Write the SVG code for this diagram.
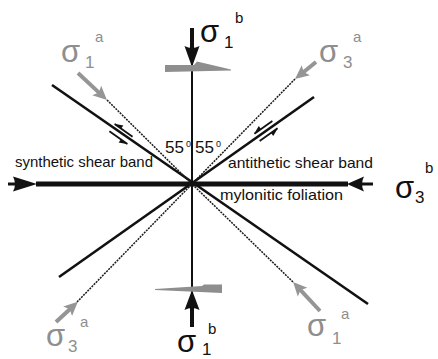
<svg xmlns="http://www.w3.org/2000/svg" width="438" height="359" viewBox="0 0 438 359">
<style>
.t{font-family:"Liberation Sans",Arial,sans-serif;fill:#111}
.g{fill:#8e8e8e}
.k{fill:#111}
.sig{font-size:31px}
.sub{font-size:17px}
.sup{font-size:15px}
.lbl{font-size:14.5px}
.dot{stroke:#1a1a1a;stroke-width:1.5;stroke-dasharray:2 1;fill:none}
.band{stroke:#111;stroke-width:2.6;fill:none}
.garrow{stroke:#959595;stroke-width:4;fill:none}
</style>
<defs>
<marker id="gh" markerUnits="userSpaceOnUse" markerWidth="15" markerHeight="14" refX="6" refY="6.5" orient="auto" viewBox="0 0 15 13">
<path d="M0,0 L14,6.5 L0,13 L3,6.5 Z" fill="#959595"/>
</marker>
<g id="ha">
<line x1="-11" y1="0" x2="11" y2="0" stroke="#111" stroke-width="1.8"/>
<polygon points="11.5,0 3,3.8 3,0" fill="#111"/>
</g>
</defs>
<rect width="438" height="359" fill="#fff"/>
<g id="connectors">
<line class="band" x1="52" y1="85" x2="368" y2="304"/>
<line class="band" x1="314" y1="97" x2="59" y2="277"/>
<line class="dot" x1="107" y1="100" x2="192" y2="184"/>
<line class="dot" x1="295" y1="79" x2="192" y2="184"/>
<line class="dot" x1="77" y1="302" x2="192" y2="184"/>
<line class="dot" x1="293" y1="282" x2="192" y2="184"/>
<line x1="192" y1="46" x2="192" y2="309" stroke="#111" stroke-width="2"/>
<line x1="192" y1="28" x2="192" y2="50" stroke="#111" stroke-width="4"/>
<path d="M192,67 L184.5,46 Q192,50 199.5,46 Z" fill="#111"/>
<line x1="192" y1="305" x2="192" y2="327" stroke="#111" stroke-width="4"/>
<path d="M192,290 L184.5,310 Q192,306 199.5,310 Z" fill="#111"/>
<line x1="36" y1="184" x2="348" y2="184" stroke="#111" stroke-width="5"/>
<line x1="8" y1="184" x2="18" y2="184" stroke="#111" stroke-width="3"/>
<path d="M37,184 L13,176.5 Q17,184 13,191.5 Z" fill="#111"/>
<line x1="360" y1="184" x2="373" y2="184" stroke="#111" stroke-width="3"/>
<path d="M347,184 L364,176.5 Q360,184 364,191.5 Z" fill="#111"/>
<line class="garrow" x1="78" y1="73" x2="101.1" y2="94.6" marker-end="url(#gh)"/>
<line class="garrow" x1="316" y1="62" x2="301.2" y2="74" marker-end="url(#gh)"/>
<line class="garrow" x1="56" y1="322" x2="72" y2="307.2" marker-end="url(#gh)"/>
<line class="garrow" x1="320" y1="311" x2="298.5" y2="287.8" marker-end="url(#gh)"/>
<polygon points="165,65 194,65 197,61.5 231,69.5 231,70.5 165,72" fill="#8e8e8e"/>
<polygon points="222,284.5 204,284.5 202,286 155,289 155,290 222,293" fill="#8e8e8e"/>
<use href="#ha" transform="translate(123.6,130.3) rotate(215.3)"/>
<use href="#ha" transform="translate(118.4,137.7) rotate(35.3)"/>
<use href="#ha" transform="translate(263.4,127.3) rotate(144.5)"/>
<use href="#ha" transform="translate(268.6,134.7) rotate(-35.5)"/>
</g>
<g id="sigma1b-top" class="t k">
<text class="sig" x="200" y="42">σ</text><text class="sub" x="224" y="48">1</text><text class="sup" x="235" y="23">b</text>
</g>
<g id="sigma1a-top" class="t g">
<text class="sig g" x="61" y="62">σ</text><text class="sub g" x="85" y="68">1</text><text class="sup g" x="95" y="42">a</text>
</g>
<g id="sigma3a-top" class="t g">
<text class="sig g" x="319" y="62">σ</text><text class="sub g" x="343" y="68">3</text><text class="sup g" x="353" y="42">a</text>
</g>
<g id="sigma3b-right" class="t k">
<text class="sig" x="395" y="198">σ</text><text class="sub" x="415" y="203">3</text><text class="sup" x="425" y="173">b</text>
</g>
<g id="sigma3a-bottom" class="t g">
<text class="sig g" x="46" y="346">σ</text><text class="sub g" x="68" y="352">3</text><text class="sup g" x="80" y="327">a</text>
</g>
<g id="sigma1b-bottom" class="t k">
<text class="sig" x="177" y="352">σ</text><text class="sub" x="202" y="355" font-size="16">1</text><text class="sup" x="208" y="334">b</text>
</g>
<g id="sigma1a-bottom" class="t g">
<text class="sig g" x="307" y="336">σ</text><text class="sub g" x="332" y="344">1</text><text class="sup g" x="341" y="319">a</text>
</g>
<g id="synthetic" class="t k">
<text class="lbl" x="15" y="167" textLength="138" lengthAdjust="spacingAndGlyphs">synthetic shear band</text>
</g>
<g id="antithetic" class="t k">
<text class="lbl" x="228" y="168" textLength="145" lengthAdjust="spacingAndGlyphs">antithetic shear band</text>
</g>
<g id="mylonitic" class="t k">
<text class="lbl" x="220" y="200" textLength="123" lengthAdjust="spacingAndGlyphs">mylonitic foliation</text>
</g>
<g id="angle-left" class="t k">
<text x="165" y="153" font-size="16" textLength="19" lengthAdjust="spacingAndGlyphs">55</text><text x="186" y="147" font-size="9">0</text>
</g>
<g id="angle-right" class="t k">
<text x="195" y="153" font-size="16" textLength="19" lengthAdjust="spacingAndGlyphs">55</text><text x="216" y="147" font-size="9">0</text>
</g>
</svg>
